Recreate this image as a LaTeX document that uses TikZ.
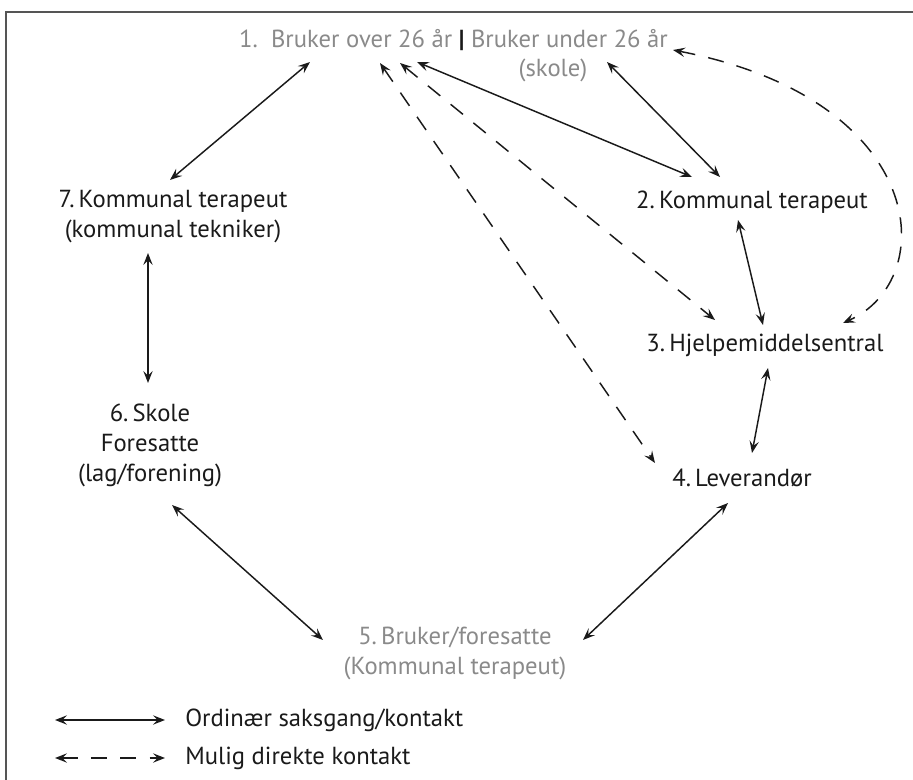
\documentclass[tikz,border=0pt]{standalone}
\usepackage{fontspec}
\setmainfont{PT Sans}
\usetikzlibrary{arrows.meta,calc}
\definecolor{txtgrey}{HTML}{8A8A8A}
\definecolor{ink}{HTML}{1A1A1A}
\definecolor{framegrey}{HTML}{555555}
\begin{document}
\begin{tikzpicture}[x=0.75pt,y=-0.75pt,
  lbl/.style={font=\fontsize{18.5}{22.5}\selectfont, align=center, inner sep=0pt, text=ink},
  grey/.style={text=txtgrey},
  conn/.style={draw=ink, line width=1.1pt, {Stealth[length=9pt,width=7pt,inset=3.5pt]}-{Stealth[length=9pt,width=7pt,inset=3.5pt]}},
  dconn/.style={conn, dash pattern=on 12pt off 10pt}]
\useasboundingbox (0,0) rectangle (913,780);
\draw[framegrey, line width=1.1pt] (913,12) -- (6,12) -- (6,780);

\node[lbl,grey] (n1) at (453.5,40) {1.\ \ Bruker over 26 år {\color{ink}\textbf{|}} Bruker under 26 år};
\node[lbl,grey] (n1s) at (553,70) {(skole)};
\node[lbl] (n7) at (173,217) {7.\,Kommunal terapeut\\(kommunal tekniker)};
\node[lbl] (n2) at (752,202) {2.\,Kommunal terapeut};
\node[lbl] (n3) at (765,345) {3.\,Hjelpemiddelsentral};
\node[lbl] (n4) at (742,478) {4.\,Leverandør};
\node[lbl] (n6) at (150,445) {6.\,Skole\\Foresatte\\(lag/forening)};
\node[lbl,grey] (n5) at (455,653) {5.\,Bruker/foresatte\\(Kommunal terapeut)};

% solid connectors
\draw[conn] ([shift={(-143.5,22)}]n1.center) -- ([shift={(-3,-37)}]n7.center);
\draw[conn] ([shift={(-36.5,22)}]n1.center) -- ([shift={(-60,-25)}]n2.center);
\draw[conn] ([shift={(54,-8)}]n1s.center) -- ([shift={(-32,-25)}]n2.center);
\draw[conn] ([shift={(-14,18)}]n2.center) -- ([shift={(-2,-20)}]n3.center);
\draw[conn] ([shift={(3,23)}]n3.center) -- ([shift={(10,-25)}]n4.center);
\draw[conn] ([shift={(-25,36)}]n7.center) -- ([shift={(-2,-62)}]n6.center);
\draw[conn] ([shift={(22,60)}]n6.center) -- ([shift={(-132,-13)}]n5.center);
\draw[conn] ([shift={(-14,25)}]n4.center) -- ([shift={(128,-13)}]n5.center);

% dashed connectors
\draw[dconn] ([shift={(-73.5,23)}]n1.center) -- ([shift={(-87,-15)}]n4.center);
\draw[dconn] ([shift={(-53.5,23)}]n1.center) -- ([shift={(-50,-25)}]n3.center);
\draw[dconn] ([shift={(219.5,10)}]n1.center) .. controls (930,100) and (940,280) .. ([shift={(78,-22)}]n3.center);

% legend
\coordinate (la1) at (55,720);
\coordinate (lb1) at (165,720);
\coordinate (la2) at (55,758);
\coordinate (lb2) at (165,758);
\draw[conn] (la1) -- (lb1);
\draw[dconn] (la2) -- (lb2);
\node[lbl, anchor=west] (lt1) at (185,720) {Ordinær saksgang/kontakt};
\node[lbl, anchor=west] (lt2) at (185,758) {Mulig direkte kontakt};
\end{tikzpicture}
\end{document}
